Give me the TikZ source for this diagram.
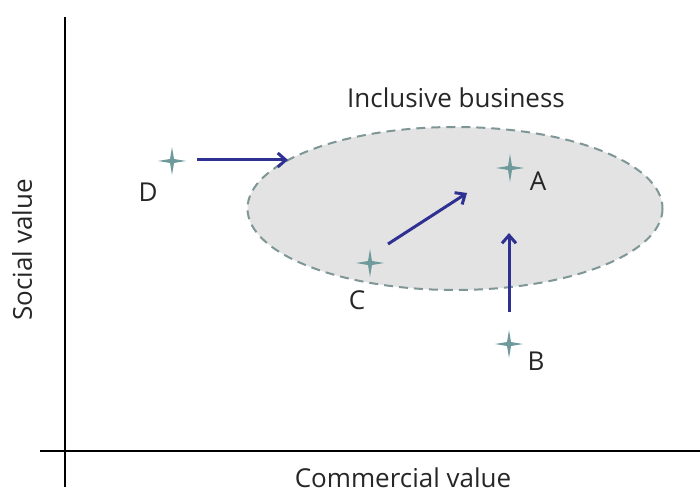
\documentclass[tikz,border=0pt]{standalone}
\usepackage{fontspec}
\setmainfont{Open Sans}
\usetikzlibrary{arrows.meta}
\definecolor{arrowblue}{HTML}{2E3192}
\definecolor{stargray}{HTML}{6F9A9C}
\definecolor{ellfill}{HTML}{E3E3E3}
\definecolor{elldraw}{HTML}{7F9696}
\tikzset{
  axis/.style={line width=1.4pt, black},
  moveto/.style={line width=3pt, arrowblue, -{Straight Barb[length=8pt,width=14pt,line width=3pt]}},
  lbl/.style={font=\fontsize{26}{30}\selectfont, inner sep=0pt, text=black!85},
  sparkle/.style={fill=stargray, draw=none},
}
\newcommand{\sparkleat}[1]{\fill[sparkle] (#1) ++(0,14) -- ++(2,-12) -- ++(12,-2) -- ++(-12,-2) -- ++(-2,-12) -- ++(-2,12) -- ++(-12,2) -- ++(12,2) -- cycle;}
\begin{document}
\begin{tikzpicture}[x=1pt,y=-1pt]
\useasboundingbox (0,0) rectangle (700,494);
% ellipse
\draw[fill=ellfill, draw=elldraw, line width=2pt, dash pattern=on 9pt off 6pt] (455,208.5) ellipse [x radius=207.5, y radius=81.5];
\node[lbl] (title) at (456,98) {Inclusive business};
% axes
\coordinate (ytop) at (65,17);
\coordinate (ybot) at (65,487);
\coordinate (xl) at (40,451);
\coordinate (xr) at (700,451);
\draw[axis] (ytop) -- (ybot);
\draw[axis] (xl) -- (xr);
\node[lbl, rotate=90] (ylab) at (22,250) {Social value};
\node[lbl] (xlab) at (403,478) {Commercial value};
% points
\coordinate (D) at (172,161);
\coordinate (A) at (510,168);
\coordinate (C) at (370,263);
\coordinate (B) at (509,344);
\sparkleat{D}\sparkleat{A}\sparkleat{C}\sparkleat{B}
\node[lbl] (Dl) at (148,192) {D};
\node[lbl] (Al) at (538,181) {A};
\node[lbl] (Cl) at (357,300) {C};
\node[lbl] (Bl) at (536,361) {B};
% arrows
\coordinate (D1) at (197,160);
\coordinate (D2) at (288,160);
\coordinate (C1) at (388,244);
\coordinate (C2) at (467,193);
\coordinate (B1) at (509,312);
\coordinate (B2) at (509,233);
\draw[moveto] (D1) -- (D2);
\draw[moveto] (C1) -- (C2);
\draw[moveto] (B1) -- (B2);
\end{tikzpicture}
\end{document}
